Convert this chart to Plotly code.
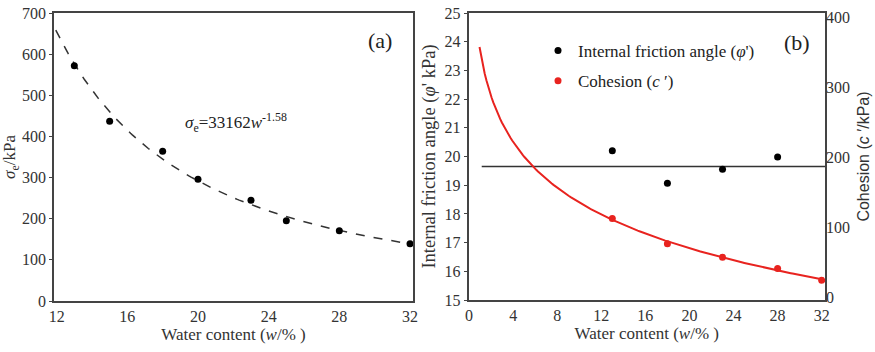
import numpy as np
import plotly.graph_objects as go

# ---------- data ----------
# panel (a)
w_a = [13, 15, 18, 20, 23, 25, 28, 32]
sigma_e = [572, 437, 364, 296, 245, 195, 171, 139]
fit_a_coef = 33162
fit_a_exp = -1.58

# panel (b)
w_b = [13, 18, 23, 28]
phi = [20.2, 19.07, 19.56, 19.98]
w_c = [13, 18, 23, 28, 32]
cohesion = [113, 77, 58, 42, 25]
phi_mean = 19.65

FONT = "Liberation Serif"
FRAME = "#444444"
TXT = "#333333"

# fitted curves
wa_line = np.linspace(11.95, 32, 200)
sa_line = fit_a_coef * wa_line ** fit_a_exp

slope, intercept = np.polyfit(np.log(w_c), cohesion, 1)
wc_line = np.linspace(0.95, 32, 200)
c_line = intercept + slope * np.log(wc_line)

fig = go.Figure()

# (a)
fig.add_trace(go.Scatter(x=wa_line, y=sa_line, mode="lines",
                         line=dict(color="#333333", width=1.5, dash="dash"),
                         xaxis="x", yaxis="y", showlegend=False))
fig.add_trace(go.Scatter(x=w_a, y=sigma_e, mode="markers",
                         marker=dict(color="black", size=7),
                         xaxis="x", yaxis="y", showlegend=False))

# (b)
fig.add_trace(go.Scatter(x=[1.15, 32.3], y=[phi_mean, phi_mean], mode="lines",
                         line=dict(color="#333333", width=1.5),
                         xaxis="x2", yaxis="y2", showlegend=False))
fig.add_trace(go.Scatter(x=w_b, y=phi, mode="markers",
                         marker=dict(color="black", size=7),
                         name="Internal friction angle (<i>φ</i>')",
                         legendgroup="g1",
                         xaxis="x2", yaxis="y2"))
fig.add_trace(go.Scatter(x=wc_line, y=c_line, mode="lines",
                         line=dict(color="#e8231f", width=2),
                         xaxis="x2", yaxis="y3", showlegend=False))
fig.add_trace(go.Scatter(x=w_c, y=cohesion, mode="markers",
                         marker=dict(color="#e8231f", size=7),
                         name="Cohesion (<i>c</i> ′)",
                         legendgroup="g2",
                         xaxis="x2", yaxis="y3"))

W, H = 875, 352
def dx(a, b):
    return [a / W, b / W]
def dy(top, bottom):
    return [1 - bottom / H, 1 - top / H]

axis_common = dict(showline=True, mirror=True, linecolor=FRAME, linewidth=1.5,
                   showgrid=False, zeroline=False, automargin=False,
                   tickfont=dict(family=FONT, size=16, color=TXT))

fig.update_layout(
    width=W, height=H,
    margin=dict(l=0, r=0, t=0, b=0, autoexpand=False),
    paper_bgcolor="white", plot_bgcolor="white",
    font=dict(family=FONT, size=16, color=TXT),
    xaxis=dict(domain=dx(54, 413), range=[11.85, 32.17], tickvals=[12, 16, 20, 24, 28, 32],
               ticks="", title=dict(text="Water content (<i>w</i>/% )", standoff=3,
                                    font=dict(family=FONT, size=17, color=TXT)),
               anchor="y", **axis_common),
    yaxis=dict(domain=dy(13, 301), range=[0, 700], dtick=100, ticks="outside", ticklen=3,
               tickcolor=FRAME,
               title=dict(text="<i>σ</i><sub>e</sub>/kPa", standoff=1,
                          font=dict(family=FONT, size=17, color=TXT)),
               anchor="x", **axis_common),
    xaxis2=dict(domain=dx(468.5, 825), range=[-0.05, 32.3], tickvals=[0, 4, 8, 12, 16, 20, 24, 28, 32],
                ticks="", title=dict(text="Water content (<i>w</i>/% )", standoff=3,
                                     font=dict(family=FONT, size=17, color=TXT)),
                anchor="y2", **axis_common),
    yaxis2=dict(domain=dy(13, 300), range=[15, 25], dtick=1, ticks="outside", ticklen=3,
                tickcolor=FRAME,
                title=dict(text="Internal friction angle (<i>φ</i>' kPa)", standoff=4,
                           font=dict(family=FONT, size=18.5, color=TXT)),
                anchor="x2", **axis_common),
    yaxis3=dict(domain=dy(13, 300), range=[-3, 406], tickvals=[0, 100, 200, 300, 400],
                overlaying="y2", side="right", anchor="x2", ticks="", automargin=False,
                title=dict(text="Cohesion (<i>c</i> ′/kPa)", standoff=8,
                           font=dict(family="Liberation Sans", size=16, color=TXT)),
                showgrid=False, zeroline=False, showline=False,
                tickfont=dict(family=FONT, size=16, color=TXT)),
    legend=dict(x=538 / W, y=1 - 33 / H, xanchor="left", yanchor="top",
                bgcolor="rgba(0,0,0,0)", font=dict(family=FONT, size=17, color="#222222"),
                tracegroupgap=5, itemwidth=30, traceorder="grouped"),
    annotations=[
        dict(text="(a)", x=380 / W, y=1 - 40 / H, xref="paper", yref="paper",
             xanchor="center", yanchor="middle",
             showarrow=False, font=dict(family=FONT, size=22, color="#222222")),
        dict(text="(b)", x=797 / W, y=1 - 42 / H, xref="paper", yref="paper",
             xanchor="center", yanchor="middle",
             showarrow=False, font=dict(family=FONT, size=22, color="#222222")),
        dict(text="<i>σ</i><sub>e</sub>=33162<i>w</i><sup>-1.58</sup>",
             x=236 / W, y=1 - 123 / H, xref="paper", yref="paper",
             xanchor="center", yanchor="middle",
             showarrow=False, font=dict(family=FONT, size=17, color="#222222")),
    ],
)

fig.write_html("out.html")
